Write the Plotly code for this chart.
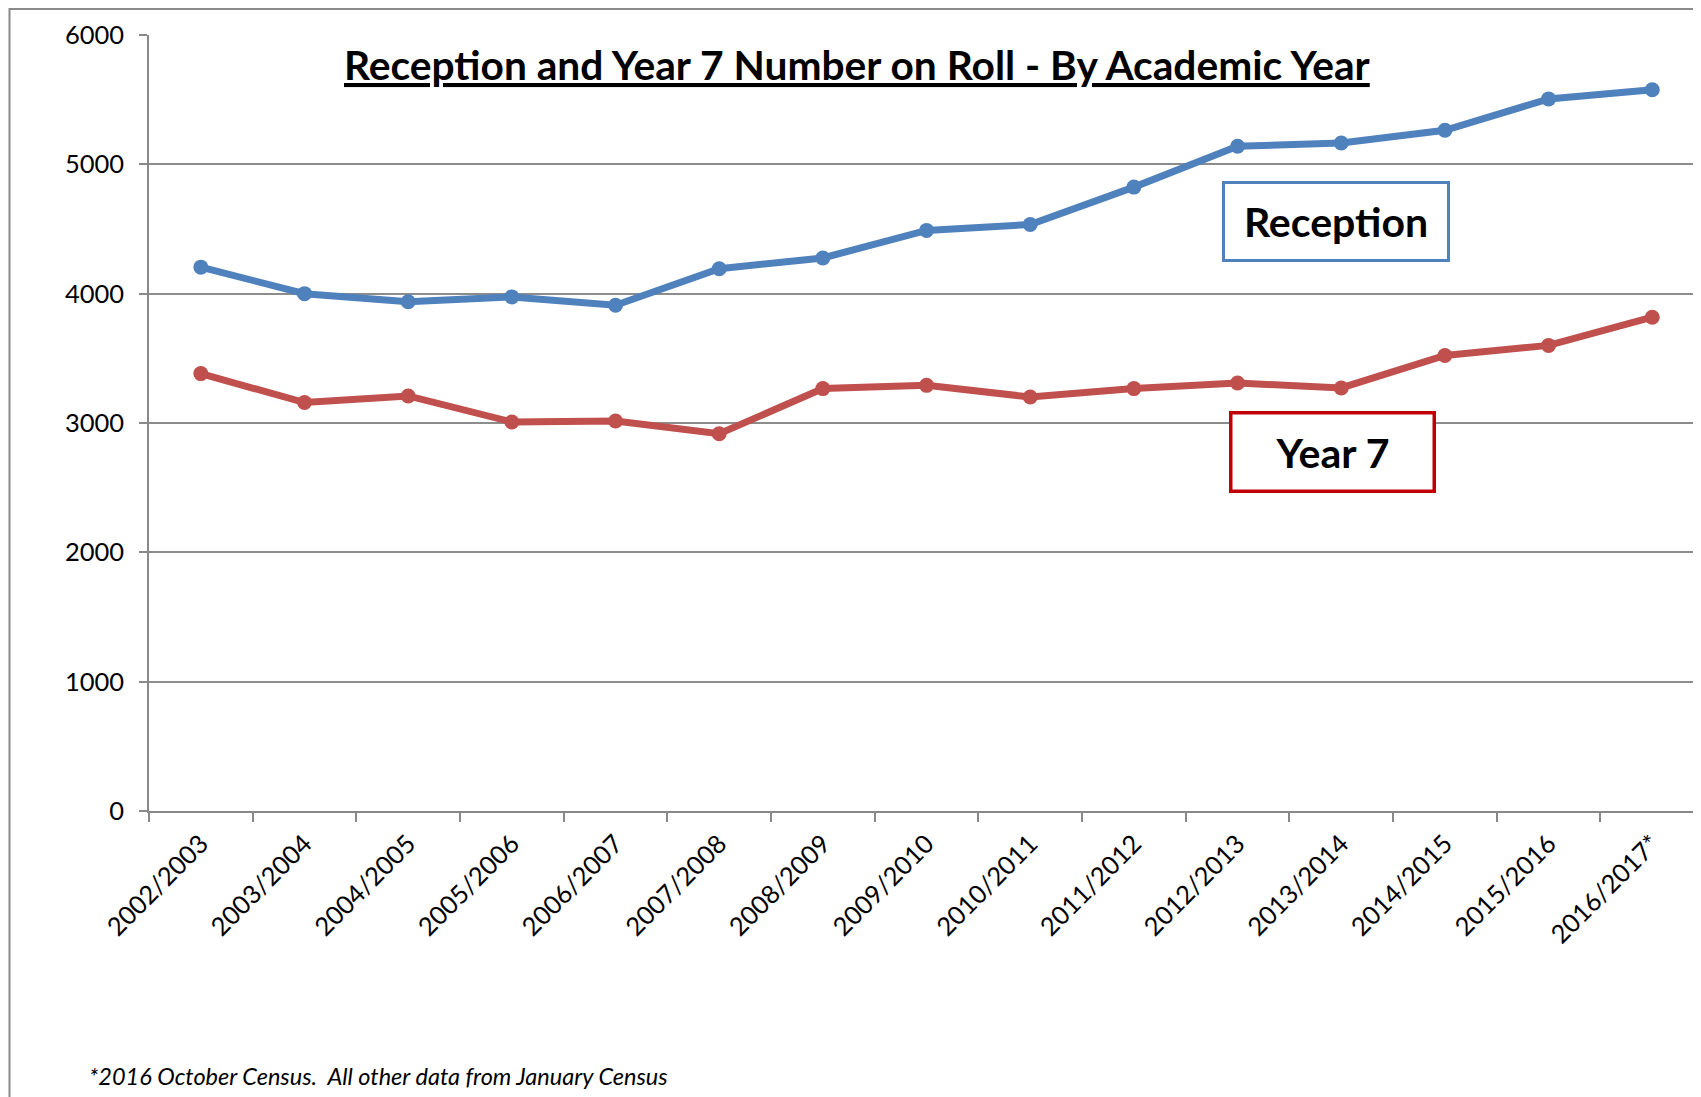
import plotly.graph_objects as go

years = ["2002/2003", "2003/2004", "2004/2005", "2005/2006", "2006/2007", "2007/2008",
         "2008/2009", "2009/2010", "2010/2011", "2011/2012", "2012/2013", "2013/2014",
         "2014/2015", "2015/2016", "2016/2017*"]
reception = [4205, 4000, 3937, 3975, 3910, 4193, 4276, 4489, 4535, 4824, 5140, 5165, 5263, 5506, 5577]
year7 = [3382, 3158, 3209, 3008, 3016, 2917, 3266, 3291, 3201, 3266, 3309, 3271, 3522, 3600, 3818]
y_ticks = [0, 1000, 2000, 3000, 4000, 5000, 6000]

FONT = "Lato, 'Open Sans', sans-serif"
OFF = 8  # default page body margin
W, H = 1701 - OFF, 1097 - OFF
L, T, B = 141, 27, 286
pw = W - L
ph = H - T - B

def px(xs):
    return (xs - OFF - L) / pw

def py(ys):
    return (H - B - (ys - OFF)) / ph

fig = go.Figure()
fig.add_trace(go.Scatter(x=years, y=reception, mode="lines+markers", name="Reception",
                         line=dict(color="#4F81BD", width=7),
                         marker=dict(color="#4F81BD", size=15)))
fig.add_trace(go.Scatter(x=years, y=year7, mode="lines+markers", name="Year 7",
                         line=dict(color="#C0504D", width=7),
                         marker=dict(color="#C0504D", size=15)))

fig.update_layout(
    width=W, height=H,
    margin=dict(l=L, r=0, t=T, b=B, pad=0),
    paper_bgcolor="white", plot_bgcolor="white",
    showlegend=False,
    font=dict(family=FONT, color="black"),
    xaxis=dict(type="category", range=[-0.5, 14.47], tickson="boundaries",
               ticks="outside", ticklen=9, tickcolor="#888888", tickwidth=1.5,
               showline=True, linecolor="#888888", linewidth=1.5,
               showgrid=False, tickangle=-45, ticklabelstandoff=6,
               tickfont=dict(size=25.5, family=FONT)),
    yaxis=dict(range=[0, 6000], tickvals=y_ticks, ticktext=[str(v) for v in y_ticks],
               ticks="outside", ticklen=8, tickcolor="#888888", tickwidth=1.5,
               showline=True, linecolor="#888888", linewidth=1.5,
               showgrid=True, gridcolor="#8c8c8c", gridwidth=1.5,
               zeroline=False, ticklabelstandoff=10,
               tickfont=dict(size=25.5, family=FONT)),
)

# outer chart border (cropped on the right and bottom)
fig.add_shape(type="rect", xref="paper", yref="paper",
              x0=px(9.5), x1=px(1800), y0=py(1200), y1=py(9),
              line=dict(color="#8a8a8a", width=2), layer="below")

fig.add_annotation(xref="paper", yref="paper", x=px(857), y=py(65),
                   text="<b><u>Reception and Year 7 Number on Roll - By Academic Year</u></b>",
                   showarrow=False, font=dict(size=40.7, family=FONT, color="black"),
                   xanchor="center", yanchor="middle")

fig.add_annotation(xref="paper", yref="paper", x=px(1335.5), y=py(221),
                   text="<b>Reception</b>", showarrow=False,
                   font=dict(size=41, family=FONT, color="black"),
                   bordercolor="#4F81BD", borderwidth=3, borderpad=0,
                   width=222, height=75, bgcolor="white",
                   xanchor="center", yanchor="middle")

fig.add_annotation(xref="paper", yref="paper", x=px(1332.5), y=py(452),
                   text="<b>Year 7</b>", showarrow=False,
                   font=dict(size=41, family=FONT, color="black"),
                   bordercolor="#C00000", borderwidth=3.5, borderpad=0,
                   width=200, height=75, bgcolor="white",
                   xanchor="center", yanchor="middle")

fig.add_annotation(xref="paper", yref="paper", x=px(87), y=py(1076),
                   text="<i>*2016 October Census.  All other data from January Census</i>",
                   showarrow=False, font=dict(size=23.5, family=FONT, color="black"),
                   xanchor="left", yanchor="middle")

fig.write_html("out.html")
